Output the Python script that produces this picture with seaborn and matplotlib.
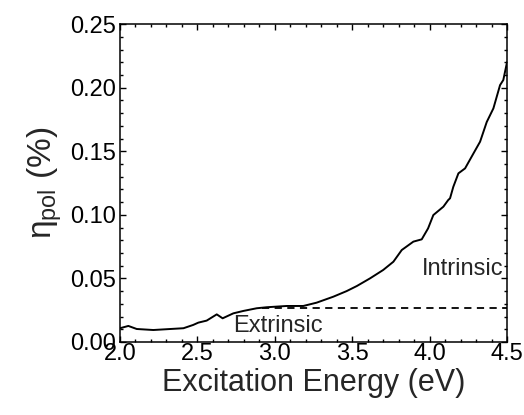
import matplotlib
matplotlib.use("Agg")
import matplotlib.pyplot as plt
from matplotlib.ticker import MultipleLocator
import seaborn as sns
import pandas as pd

# values
energy = [2.00, 2.054, 2.108, 2.215, 2.41, 2.473, 2.506, 2.56, 2.625, 2.663,
          2.732, 2.797, 2.883, 2.948, 3.077, 3.184, 3.27, 3.378, 3.464, 3.53,
          3.615, 3.70, 3.766, 3.82, 3.895, 3.949, 3.99, 4.024, 4.089, 4.12,
          4.132, 4.153, 4.186, 4.229, 4.282, 4.326, 4.369, 4.412, 4.455,
          4.476, 4.50]
eta_pol = [0.0108, 0.0126, 0.0102, 0.0094, 0.0108, 0.0134, 0.0152, 0.0168,
           0.0217, 0.0186, 0.0225, 0.0244, 0.0265, 0.0273, 0.0283, 0.0283,
           0.0309, 0.0356, 0.040, 0.044, 0.050, 0.0566, 0.0631, 0.0723,
           0.0789, 0.0807, 0.0893, 0.0998, 0.1064, 0.1116, 0.113, 0.122,
           0.1326, 0.1365, 0.148, 0.1575, 0.173, 0.1837, 0.202, 0.206, 0.220]
extrinsic_x = [2.92, 4.5]
extrinsic_y = [0.027, 0.027]

df = pd.DataFrame({"energy": energy, "eta": eta_pol})

sns.set_style("ticks")
plt.rcParams["font.family"] = ["Liberation Sans", "DejaVu Sans"]
plt.rcParams["mathtext.fontset"] = "custom"
plt.rcParams["mathtext.rm"] = "Liberation Sans"
plt.rcParams["mathtext.it"] = "Liberation Sans:italic"
plt.rcParams["mathtext.default"] = "regular"

fig, ax = plt.subplots(figsize=(5.24, 4.15), dpi=100)
fig.subplots_adjust(left=0.229, right=0.9676, top=0.942, bottom=0.176)

sns.lineplot(data=df, x="energy", y="eta", color="black", linewidth=1.4, ax=ax)
ax.plot(extrinsic_x, extrinsic_y, color="black", linestyle=(0, (4, 3)), linewidth=1.3)

ax.set_xlim(2.0, 4.5)
ax.set_ylim(0.0, 0.25)
ax.xaxis.set_major_locator(MultipleLocator(0.5))
ax.xaxis.set_minor_locator(MultipleLocator(0.1))
ax.yaxis.set_major_locator(MultipleLocator(0.05))
ax.yaxis.set_minor_locator(MultipleLocator(0.01))
ax.xaxis.set_major_formatter(plt.FormatStrFormatter("%.1f"))
ax.yaxis.set_major_formatter(plt.FormatStrFormatter("%.2f"))

ax.tick_params(which="both", direction="in", top=True, right=True,
               width=1.0, colors="black", labelsize=17)
ax.tick_params(which="major", length=4)
ax.tick_params(which="minor", length=2.2)
ax.tick_params(axis="x", pad=1)
ax.tick_params(axis="y", pad=3)
for s in ax.spines.values():
    s.set_linewidth(1.1)
    s.set_color("black")

ax.set_xlabel("Excitation Energy (eV)", fontsize=22, labelpad=2)
ax.set_ylabel(r"$\eta_{pol}$ (%)", fontsize=24, labelpad=4)

ax.text(4.48, 0.057, "Intrinsic", ha="right", va="center", fontsize=17)
ax.text(3.02, 0.0125, "Extrinsic", ha="center", va="center", fontsize=17)

fig.savefig("out.png", dpi=100)
